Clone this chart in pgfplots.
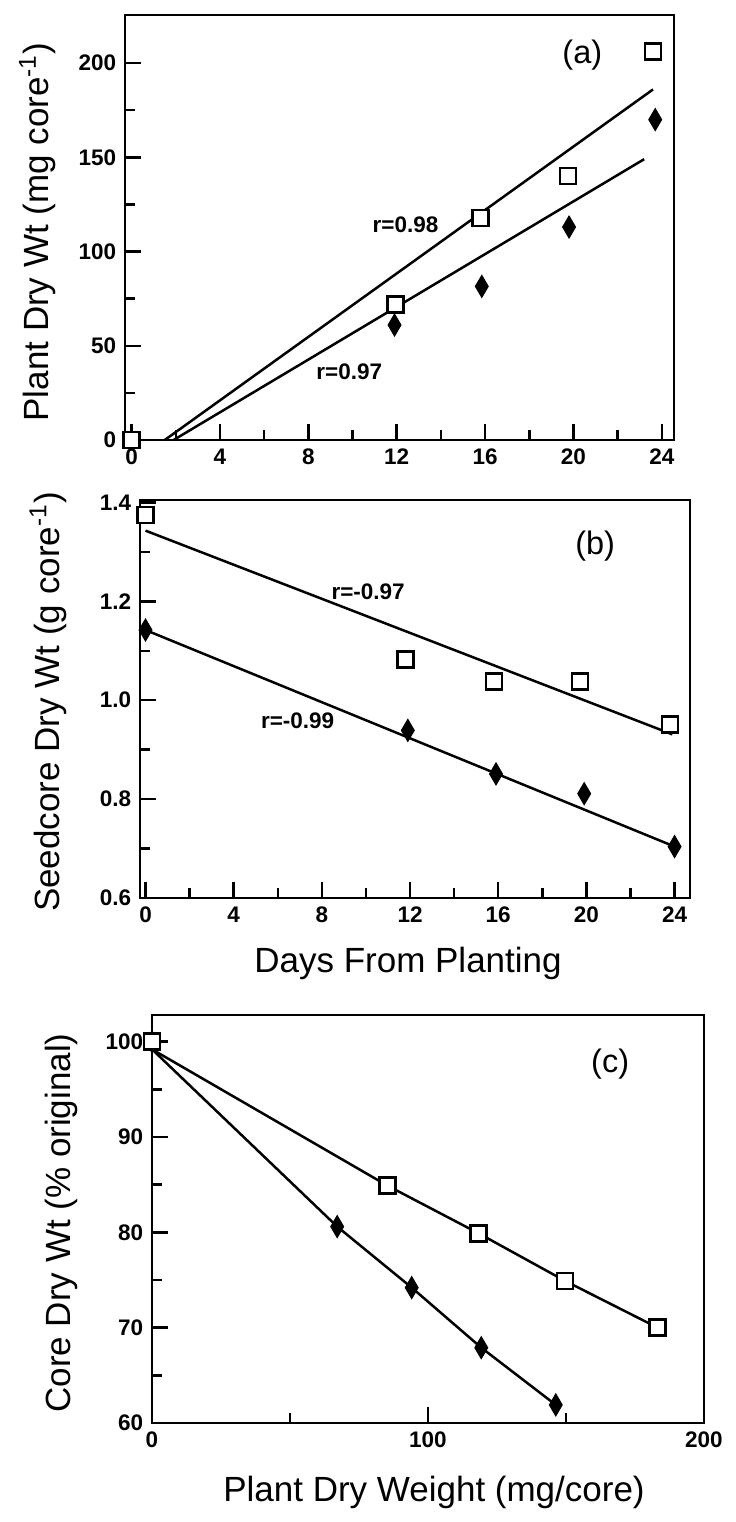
\documentclass[border=0pt]{standalone}
\usepackage{fontspec}
\setmainfont{Liberation Sans}
\usepackage{pgfplots}
\pgfplotsset{compat=1.18}

\pgfplotsset{
  panel/.style={
    scale only axis, anchor=south west, clip=false,
    axis line style={line width=1.1pt},
    xtick pos=bottom, ytick pos=left, tick align=inside,
    major tick length=6.5pt, minor tick length=4pt,
    tick style={line width=1pt, black},
    minor tick num=1,
    tick label style={font=\fontsize{9}{10}\selectfont\bfseries},
    /pgf/number format/assume math mode=true,
  },
  sq/.style={only marks, mark=square*, mark size=3.2pt,
    mark options={fill=white, draw=black, line width=1pt}},
  dm/.style={only marks, mark=diamond*, mark size=4.4pt,
    mark options={fill=black, draw=black, xscale=0.78}},
  fit/.style={no marks, line width=1pt, black},
}
\tikzset{
  rlab/.style={font=\fontsize{9}{10}\selectfont\bfseries},
  plab/.style={font=\fontsize{13}{14}\selectfont},
  ttl/.style={font=\fontsize{14}{15}\selectfont},
}

\begin{document}
\begin{tikzpicture}
\useasboundingbox (0pt,0pt) rectangle (294.4pt,608.8pt);

% (a)
\begin{axis}[panel, at={(50pt,432.8pt)}, width=219.6pt, height=170pt,
  xmin=-0.3, xmax=24.55, ymin=0, ymax=225.5,
  xtick={0,4,...,24}, ytick={0,50,...,200}]
\addplot[fit] coordinates {(1.5,0) (23.6,186)};
\addplot[fit] coordinates {(1.9,0) (23.2,149)};
\addplot[dm] coordinates {(11.9,61) (15.85,81.5) (19.8,113) (23.7,170)};
\addplot[sq] coordinates {(0,0) (11.95,71.8) (15.8,117.8) (19.75,140) (23.6,206)};
\node[rlab] at (axis cs:12.4,114.3) {r=0.98};
\node[rlab] at (axis cs:9.85,36.3) {r=0.97};
\node[plab] at (axis cs:20.4,204.4) {(a)};
\end{axis}

% (b)
\begin{axis}[panel, at={(56pt,249.6pt)}, width=220pt, height=159.2pt,
  xmin=-0.25, xmax=24.7, ymin=0.6, ymax=1.405,
  xtick={0,4,...,24}, ytick={0.6,0.8,1.0,1.2,1.4},
  yticklabel style={/pgf/number format/.cd, fixed, fixed zerofill, precision=1}]
\addplot[fit] coordinates {(0,1.343) (23.9,0.931)};
\addplot[fit] coordinates {(0,1.142) (24,0.704)};
\addplot[dm] coordinates {(0,1.142) (11.9,0.939) (15.9,0.851) (19.9,0.811) (24,0.704)};
\addplot[sq] coordinates {(0,1.375) (11.8,1.082) (15.8,1.038) (19.7,1.038) (23.8,0.951)};
\node[rlab] at (axis cs:10.1,1.22) {r=-0.97};
\node[rlab] at (axis cs:6.9,0.958) {r=-0.99};
\node[plab] at (axis cs:20.4,1.312) {(b)};
\end{axis}

% (c)
\begin{axis}[panel, at={(60.8pt,39.6pt)}, width=220.8pt, height=163.2pt,
  xmin=0, xmax=200, ymin=60, ymax=102.8,
  xtick={0,100,200}, ytick={60,70,...,100}]
\addplot[fit] coordinates {(0,99.2) (85.3,84.9) (118.3,79.9) (149.7,74.9) (183.2,70)};
\addplot[fit] coordinates {(0,99.2) (67.1,80.6) (94.1,74.2) (119.3,67.9) (146.3,61.9)};
\addplot[dm] coordinates {(0,100) (67.1,80.6) (94.1,74.2) (119.3,67.9) (146.3,61.9)};
\addplot[sq] coordinates {(0,100) (85.3,84.9) (118.3,79.9) (149.7,74.9) (183.2,70)};
\node[plab] at (axis cs:166,97.6) {(c)};
\end{axis}

% axis titles
\node[rotate=90, ttl] at (15pt,516pt) {Plant Dry Wt (mg core\textsuperscript{-1})};
\node[rotate=90, ttl] at (19.2pt,328pt) {Seedcore Dry Wt (g core\textsuperscript{-1})};
\node[rotate=90, ttl] at (24.4pt,119.6pt) {Core Dry Wt (\% original)};
\node[ttl] at (163.2pt,223.6pt) {Days From Planting};
\node[ttl] at (173.6pt,12pt) {Plant Dry Weight (mg/core)};
\end{tikzpicture}
\end{document}
